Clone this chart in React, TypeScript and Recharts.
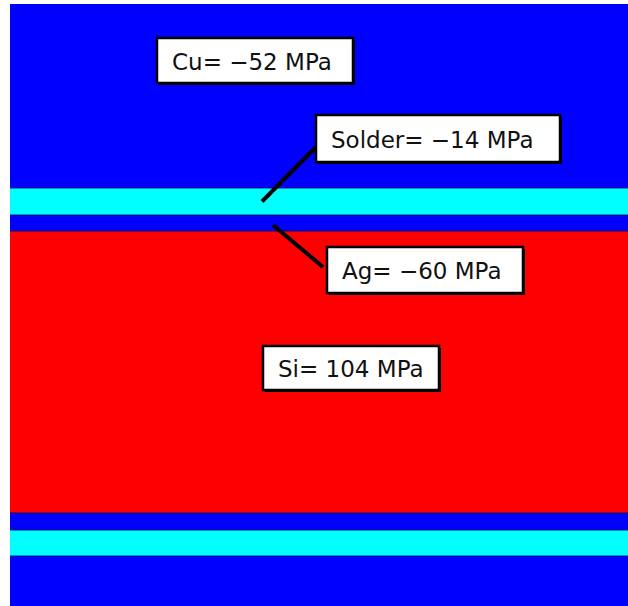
import React from 'react';
import { BarChart, Bar, XAxis, YAxis, LabelList } from 'recharts';

// Layer stack, listed bottom → top (thickness in arbitrary units)
const layerNames = ['Cu', 'Solder', 'Ag', 'Si', 'Ag', 'Solder', 'Cu'];
const layerThickness = [50, 26, 17, 282, 16, 27, 184];
const layerColors = ['#0000FF', '#00FFFF', '#0000FF', '#FF0000', '#0000FF', '#00FFFF', '#0000FF'];

// Stress annotations
const stressMaterials = ['Cu', 'Solder', 'Ag', 'Si'];
const stressValues = [-52, -14, -60, 104];

const total = layerThickness.reduce((a, b) => a + b, 0);
const row: Record<string, any> = { name: 'stack' };
layerThickness.forEach((t, i) => {
  row['L' + i] = t;
});
const data = [row];

const fmt = (i: number) => {
  const v = stressValues[i];
  return `${stressMaterials[i]}= ${v < 0 ? '\u2212' : ''}${Math.abs(v)} MPa`;
};

const FONT = '"DejaVu Sans", sans-serif';

const Box = ({ x, y, w, h, text }: { x: number; y: number; w: number; h: number; text: string }) => (
  <g>
    <rect x={x + 2} y={y + 2} width={w} height={h} fill="#000" />
    <rect x={x} y={y} width={w} height={h} fill="#fff" stroke="#000" strokeWidth={2.5} />
    <text
      x={x + 15}
      y={y + h / 2 + 1}
      dominantBaseline="central"
      fontFamily={FONT}
      fontSize={23}
      fill="#111"
    >
      {text}
    </text>
  </g>
);

const Annotations = (props: any) => {
  const vb = props.viewBox && props.viewBox.height != null ? props.viewBox : props;
  const x = Number(vb.x);
  const y = Number(vb.y);
  const w = Number(vb.width);
  const h = Number(vb.height);
  if (!isFinite(x) || !isFinite(y) || !isFinite(h)) return null;
  const top = layerThickness.length - 1;
  const k = h / layerThickness[top];
  const tops: number[] = [];
  let acc = y;
  for (let i = top; i >= 0; i--) {
    tops[i] = acc;
    acc += layerThickness[i] * k;
  }
  const mid = (i: number) => tops[i] + (layerThickness[i] * k) / 2;
  const boundaries = tops.slice(0, top);
  return (
    <g>
      {boundaries.map((by, i) => (
        <line key={i} x1={x} x2={x + w} y1={by} y2={by} stroke="#00005a" strokeOpacity={0.55} strokeWidth={1.5} />
      ))}
      {/* Cu */}
      <Box x={x + 147} y={tops[6] + 34} w={196} h={45} text={fmt(0)} />
      {/* Solder */}
      <line x1={x + 252} y1={mid(5)} x2={x + 306} y2={tops[5] - 41} stroke="#000" strokeWidth={4} />
      <Box x={x + 306} y={tops[5] - 73} w={244} h={47} text={fmt(1)} />
      {/* Ag */}
      <line x1={x + 263} y1={mid(4) + 2} x2={x + 313} y2={tops[3] + 36} stroke="#000" strokeWidth={4} />
      <Box x={x + 317} y={tops[3] + 16} w={196} h={46} text={fmt(2)} />
      {/* Si */}
      <Box x={x + 253} y={tops[3] + 115} w={176} h={44} text={fmt(3)} />
    </g>
  );
};

export default function App() {
  return (
    <div style={{ position: 'absolute', left: 10, top: 4 }}>
      <BarChart
        width={618}
        height={602}
        data={data}
        margin={{ top: 0, right: 0, bottom: 0, left: 0 }}
        barCategoryGap={0}
        barGap={0}
      >
        <XAxis dataKey="name" hide />
        <YAxis type="number" domain={[0, total]} hide allowDataOverflow />
        {layerNames.map((n, i) => (
          <Bar
            key={i}
            dataKey={'L' + i}
            name={n}
            stackId="s"
            fill={layerColors[i]}
            isAnimationActive={false}
          >
            {i === layerNames.length - 1 ? <LabelList dataKey={'L' + i} content={Annotations} /> : null}
          </Bar>
        ))}
      </BarChart>
    </div>
  );
}
